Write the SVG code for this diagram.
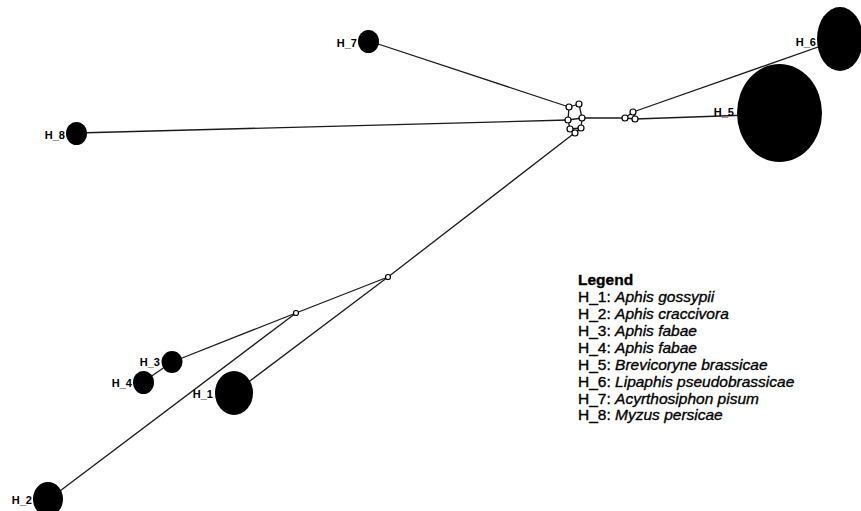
<svg xmlns="http://www.w3.org/2000/svg" width="861" height="511" viewBox="0 0 861 511">
<style>
.e{stroke:#1a1a1a;stroke-width:1.3;fill:none}
.h{fill:#000}
.m{fill:#fff;stroke:#000;stroke-width:1.2}
.l{font-family:"Liberation Sans",Arial,sans-serif;font-size:11px;font-weight:bold;fill:#000;text-anchor:end}
.g{font-family:"Liberation Sans",Arial,sans-serif;font-size:15.5px;fill:#000;stroke:#000;stroke-width:0.35}
.i{font-style:italic}
</style>
<rect width="861" height="511" fill="#fff"/>
<g id="connectors">
<line class="e" x1="369" y1="41" x2="569" y2="107"/>
<line class="e" x1="77" y1="133" x2="568" y2="120"/>
<line class="e" x1="582" y1="118" x2="625" y2="118"/>
<line class="e" x1="633" y1="112" x2="838" y2="40"/>
<line class="e" x1="635" y1="119" x2="779" y2="114"/>
<line class="e" x1="581" y1="128" x2="388" y2="277"/>
<line class="e" x1="388" y1="277" x2="234" y2="393"/>
<line class="e" x1="388" y1="277" x2="296" y2="313"/>
<line class="e" x1="296" y1="313" x2="172" y2="362"/>
<line class="e" x1="296" y1="313" x2="48" y2="500"/>
<line class="e" x1="172" y1="362" x2="143" y2="382"/>
<path class="e" d="M569,107 L579,104 M569,107 L568,120 M579,104 L582,118 M568,120 L582,118 M568,120 L570,129 M582,118 L581,128 M570,129 L581,128 M570,129 L575,133 M581,128 L575,133"/>
<path class="e" d="M625,118 L633,112 M633,112 L635,119 M625,118 L635,119"/>
</g>
<g id="median">
<circle class="m" cx="569" cy="107" r="3"/>
<circle class="m" cx="579" cy="104" r="3"/>
<circle class="m" cx="568" cy="120" r="3"/>
<circle class="m" cx="582" cy="118" r="3"/>
<circle class="m" cx="570" cy="129" r="3"/>
<circle class="m" cx="581" cy="128" r="3"/>
<circle class="m" cx="575" cy="133" r="3"/>
<circle class="m" cx="625" cy="118" r="3"/>
<circle class="m" cx="633" cy="112" r="3"/>
<circle class="m" cx="635" cy="119" r="3"/>
<circle class="m" cx="388" cy="277" r="2.5"/>
<circle class="m" cx="296" cy="313" r="2.5"/>
</g>
<g id="H_1"><ellipse class="h" cx="234" cy="393" rx="19" ry="22"/><text class="l" x="213" y="398">H_1</text></g>
<g id="H_2"><ellipse class="h" cx="48" cy="499" rx="15" ry="17"/><text class="l" x="32" y="504">H_2</text></g>
<g id="H_3"><ellipse class="h" cx="172" cy="362" rx="10.5" ry="11"/><text class="l" x="160" y="366">H_3</text></g>
<g id="H_4"><ellipse class="h" cx="143.5" cy="382.5" rx="10.5" ry="11.5"/><text class="l" x="132" y="387">H_4</text></g>
<g id="H_5"><ellipse class="h" cx="779.5" cy="113" rx="42.5" ry="49"/><text class="l" x="734" y="116">H_5</text></g>
<g id="H_6"><ellipse class="h" cx="840" cy="39" rx="23" ry="32"/><text class="l" x="816" y="46">H_6</text></g>
<g id="H_7"><ellipse class="h" cx="368.5" cy="41.5" rx="10.5" ry="11.5"/><text class="l" x="357" y="47">H_7</text></g>
<g id="H_8"><ellipse class="h" cx="76.5" cy="133.5" rx="10.5" ry="11.5"/><text class="l" x="65" y="139">H_8</text></g>
<g id="legend">
<text class="g" x="578" y="285" font-weight="bold">Legend</text>
<text class="g" x="578" y="302">H_1: <tspan class="i">Aphis gossypii</tspan></text>
<text class="g" x="578" y="319">H_2: <tspan class="i">Aphis craccivora</tspan></text>
<text class="g" x="578" y="336">H_3: <tspan class="i">Aphis fabae</tspan></text>
<text class="g" x="578" y="353">H_4: <tspan class="i">Aphis fabae</tspan></text>
<text class="g" x="578" y="370">H_5: <tspan class="i">Brevicoryne brassicae</tspan></text>
<text class="g" x="578" y="387">H_6: <tspan class="i">Lipaphis pseudobrassicae</tspan></text>
<text class="g" x="578" y="404">H_7: <tspan class="i">Acyrthosiphon pisum</tspan></text>
<text class="g" x="578" y="420">H_8: <tspan class="i">Myzus persicae</tspan></text>
</g>
</svg>
